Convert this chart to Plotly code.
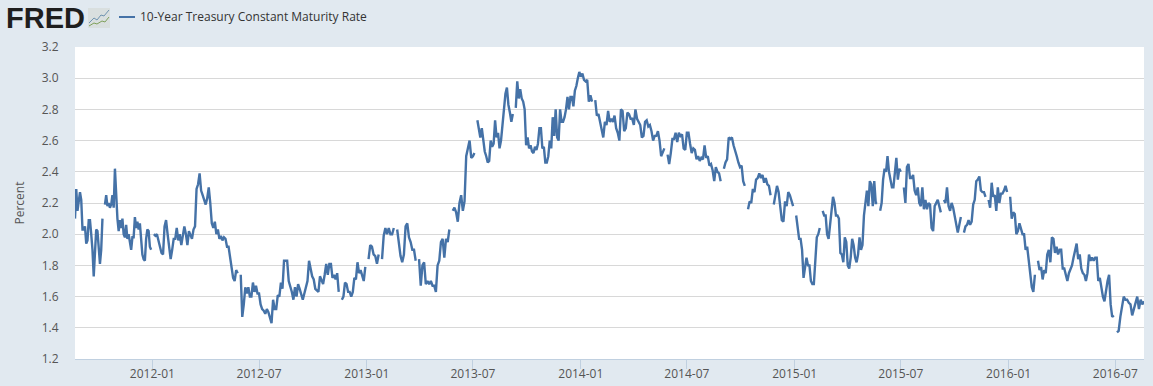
import numpy as np
import pandas as pd
import plotly.graph_objects as go

N = None
SERIES_NAME = "10-Year Treasury Constant Maturity Rate"
tick_dates = ["2012-01-01","2012-07-01","2013-01-01","2013-07-01","2014-01-01","2014-07-01",
              "2015-01-01","2015-07-01","2016-01-01","2016-07-01"]
tick_labels = ["2012-01","2012-07","2013-01","2013-07","2014-01","2014-07",
               "2015-01","2015-07","2016-01","2016-07"]
y_ticks = [1.2,1.4,1.6,1.8,2.0,2.2,2.4,2.6,2.8,3.0,3.2]

v_2011b = [2.10,2.29,2.15,2.20,2.27,2.22,2.03,2.03,2.05,1.94,1.96,2.09,2.09,2.00,1.90,1.73,1.85,2.03,2.02,1.90,1.81,1.90,2.10,N,
           2.19,2.25,2.18,2.20,2.17,2.19,2.25,2.17,2.42,2.22,2.10,2.02,2.09,2.04,2.10,2.00,1.98,2.06,1.97,2.00,1.93,1.90,1.98,1.98,
           2.11,2.04,2.08,2.03,2.07,1.95,1.87,1.84,1.83,1.97,2.03,2.02,1.92,1.90]
v_2012a = [N,2.00,1.99,2.00,1.95,1.92,1.88,1.87,2.05,2.09,2.00,1.92,1.84,1.90,1.97,1.97,2.04,1.96,2.00,1.93,1.99,2.05,2.00,1.93,
           2.02,2.00,1.97,2.03,2.05,2.29,2.32,2.39,2.28,2.25,2.21,2.19,2.23,2.30,2.20,2.07,2.04,2.08,2.00,2.03,1.97,1.99,1.96,1.98,
           1.97,1.92,1.92,1.85,1.80,1.72,1.70,1.77,1.75,N,1.74,1.47,1.55,1.66,1.62,1.66,1.60,1.60,1.69,1.63,1.67,1.62]
v_2012b = [1.62,1.55,1.52,1.51,1.49,1.52,1.50,1.47,1.43,1.58,1.52,1.52,1.61,1.60,1.69,1.65,1.83,1.83,1.83,1.70,1.67,1.63,1.58,
           1.66,1.60,1.68,1.65,1.62,1.58,1.62,1.66,1.70,1.83,1.78,1.73,1.71,1.65,1.64,1.63,1.73,1.70,1.68,1.74,1.81,1.74,1.81,1.81,
           1.72,1.74,1.71,1.75,1.63,N,1.58,1.60,1.69,1.68,1.63,1.63,1.60,1.63,1.72,1.71,1.82,1.75,1.77,1.73,1.70,1.79]
v_2013a = [N,1.84,1.93,1.92,1.87,1.86,1.81,1.87,N,1.84,1.99,2.04,2.00,2.04,2.00,2.00,2.04,N,2.03,1.93,1.86,1.82,1.87,2.05,2.07,
           1.98,1.95,1.90,1.90,1.83,N,1.84,1.67,1.80,1.82,1.68,1.70,1.68,1.70,1.67,1.67,1.63,1.80,1.83,1.95,1.97,1.85,1.97,1.95,2.03,N,
           2.15,2.17,2.14,2.08,2.20,2.25,2.15,2.21,2.50,2.55,2.60,2.49]
v_2013b = [2.50,2.52,N,2.73,2.66,2.62,2.68,2.58,2.53,2.50,2.46,2.47,2.60,2.56,2.58,2.73,2.62,2.65,2.55,2.60,2.70,2.85,2.90,2.94,
           2.83,2.78,2.72,2.77,N,2.81,2.98,2.87,2.93,2.87,2.85,2.80,2.57,2.62,2.55,2.57,2.53,2.52,2.56,2.54,2.58,2.68,2.68,2.55,2.56,
           2.46,2.46,2.50,2.60,2.55,2.75,2.63,2.80,2.62,2.60,2.80,2.72,2.72,2.75,2.80,2.88,2.80,2.88,2.88,2.82,2.92,2.95,3.00,3.04]
v_2014a = [3.01,3.03,2.99,2.98,2.99,2.85,2.89,2.85,N,2.86,2.76,2.77,2.72,2.67,2.62,2.72,2.70,2.79,2.72,2.74,2.72,2.76,2.68,2.65,
           2.60,2.80,2.79,2.66,2.68,2.78,2.77,2.74,2.74,2.70,2.80,2.74,2.72,2.70,2.62,2.63,2.72,2.73,2.69,2.70,2.66,2.60,2.63,2.63,
           2.66,2.60,2.50,2.52,2.55,N,2.51,2.45,2.52,2.61,2.61,2.65,2.59,2.65,2.63,2.64,2.55,2.54]
v_2014b = [2.65,2.65,2.58,2.52,2.55,2.54,2.48,2.50,2.47,2.49,2.48,2.57,2.49,2.50,2.44,2.45,2.41,2.34,2.43,2.40,2.39,2.34,N,2.42,
           2.46,2.48,2.62,2.61,2.62,2.57,2.54,2.50,2.46,2.43,2.44,2.34,2.31,N,2.16,2.21,2.20,2.29,2.27,2.35,2.36,2.39,2.36,2.38,2.33,
           2.36,2.32,2.31,2.25,N,2.19,2.26,2.31,2.27,2.18,2.09,2.08,2.21,2.18,2.27,2.25,2.22,2.18]
v_2015a = [N,2.12,2.05,1.97,1.97,1.90,1.72,1.80,1.85,1.80,1.80,1.70,1.68,1.68,1.82,1.98,2.00,2.04,N,2.15,2.12,2.12,2.00,1.97,2.05,
           2.12,2.24,2.20,2.12,2.12,2.10,1.88,1.87,1.82,1.98,1.95,1.80,1.78,1.85,1.97,1.93,1.85,1.82,1.87,1.98,1.90,1.93,2.12,2.20,
           2.28,2.18,2.34,2.32,2.18,2.34,2.20,2.20,N,2.15,2.20,2.35,2.42,2.40,2.50,2.40,2.36,2.30,2.30,2.40,2.49,2.35,2.42]
v_2015b = [2.40,N,2.30,2.20,2.43,2.45,2.36,2.36,2.38,2.28,2.25,2.30,2.20,2.18,2.30,2.16,2.22,2.16,2.20,2.19,2.04,2.02,2.18,2.20,
           2.22,2.18,2.14,N,2.22,2.20,2.30,2.18,2.15,2.20,2.17,2.12,2.07,2.01,2.06,2.11,N,2.01,2.05,2.06,2.09,2.06,2.08,2.19,2.22,2.34,
           2.35,2.37,2.28,2.27,2.27,2.24,N,2.22,2.17,2.33,2.24,2.25,2.15,2.30,2.20,2.26,2.26,2.28,2.31,2.27]
v_2016a = [N,2.24,2.10,2.14,2.13,2.00,2.02,2.07,2.04,2.00,2.00,1.90,1.92,1.82,1.75,1.66,1.63,1.74,N,1.83,1.77,1.79,1.71,1.77,1.75,
           1.87,1.90,1.82,1.98,1.97,1.88,1.92,1.87,1.90,1.90,1.78,1.78,1.74,1.70,1.75,1.78,1.80,1.85,1.90,1.94,1.84,1.87,1.78,1.75,
           1.74,1.70,1.75,1.87,1.83,1.85,1.83,1.85,1.85,1.70,1.72,1.66,1.60,1.57,1.65,1.70,1.74,1.55,1.47,1.48]
v_2016b = [N,1.37,1.38,1.47,1.55,1.60,1.58,1.58,1.56,1.55,1.48,1.52,1.55,1.60,1.52,1.58,1.55,1.57]

section_edges = ["2011-08-22"] + tick_dates + ["2016-08-19"]
sections = [v_2011b,v_2012a,v_2012b,v_2013a,v_2013b,v_2014a,v_2014b,v_2015a,v_2015b,v_2016a,v_2016b]

dates, values = [], []
for i, sec in enumerate(sections):
    a = pd.Timestamp(section_edges[i]).value
    b = pd.Timestamp(section_edges[i+1]).value
    last = i == len(sections) - 1
    dates += list(pd.to_datetime(np.linspace(a, b, len(sec), endpoint=last).astype("int64")))
    values += sec

W, H = 1153, 386
L, R, T, B = 75, 9, 47, 27

text_color = "#555555"
fig = go.Figure(go.Scatter(x=dates, y=values, mode="lines", name=SERIES_NAME,
                           line=dict(color="#4572A7", width=2.4), connectgaps=False))

shapes = [
    dict(type="line", xref="paper", yref="paper", x0=(119-L)/(W-L-R), x1=(135-L)/(W-L-R),
         y0=(H-B-17)/(H-T-B), y1=(H-B-17)/(H-T-B), line=dict(color="#4572A7", width=2)),
]
# FRED mark icon
def pp(x, y):
    return f"{(x-L)/(W-L-R):.5f},{(H-B-y)/(H-T-B):.5f}"
shapes.append(dict(type="rect", xref="paper", yref="paper",
                   x0=(88-L)/(W-L-R), x1=(110-L)/(W-L-R), y0=(H-B-28)/(H-T-B), y1=(H-B-8)/(H-T-B),
                   fillcolor="#d9dfdf", line=dict(width=0)))
shapes.append(dict(type="path", xref="paper", yref="paper",
                   path="M"+pp(89,23)+"L"+pp(94,18)+"L"+pp(97,20)+"L"+pp(101,15)+"L"+pp(104,16)+"L"+pp(109,10),
                   line=dict(color="#6f93b0", width=1)))
shapes.append(dict(type="path", xref="paper", yref="paper",
                   path="M"+pp(89,26)+"L"+pp(94,23)+"L"+pp(97,24)+"L"+pp(102,21)+"L"+pp(105,22)+"L"+pp(109,17),
                   line=dict(color="#7fa05a", width=1)))

fig.update_layout(
    width=W, height=H, autosize=False,
    margin=dict(l=L, r=R, t=T, b=B, pad=0, autoexpand=False),
    paper_bgcolor="#E1E9F0", plot_bgcolor="#FFFFFF",
    showlegend=False,
    font=dict(family="Open Sans, sans-serif", size=12, color=text_color),
    xaxis=dict(range=["2011-08-22","2016-08-19"], type="date", tickmode="array",
               tickvals=tick_dates, ticktext=tick_labels, showgrid=False, zeroline=False,
               automargin=False, ticklabelstandoff=-5,
               showline=True, linecolor="#C0D0E0", linewidth=1,
               ticks="outside", ticklen=9, tickcolor="#C0D0E0", tickwidth=1,
               tickfont=dict(size=12, color=text_color)),
    yaxis=dict(range=[1.2,3.2], tickmode="array", tickvals=y_ticks, automargin=False,
               ticktext=[f"{v:.1f}" for v in y_ticks], showgrid=True, gridcolor="#D8D8D8", gridwidth=1,
               zeroline=False, showline=False, ticks="outside", ticklen=13, tickcolor="rgba(0,0,0,0)",
               tickfont=dict(size=12, color=text_color),
               title=dict(text="Percent", font=dict(size=12, color=text_color), standoff=14)),
    shapes=shapes,
    annotations=[
        dict(text=SERIES_NAME, xref="paper", yref="paper", x=(138-L)/(W-L-R), y=(H-B-17)/(H-T-B),
             xanchor="left", yanchor="middle", showarrow=False, font=dict(size=12, color="#333333")),
        dict(text="<b>FRED</b>", xref="paper", yref="paper", x=(4-L)/(W-L-R), y=(H-B-18)/(H-T-B),
             xanchor="left", yanchor="middle", showarrow=False,
             font=dict(family="Liberation Sans", size=29, color="#1E1E1E")),
    ],
)
fig.write_html("out.html", config={"displayModeBar": False},
               post_script="document.body.style.margin='0';document.body.style.background='#E1E9F0';")
